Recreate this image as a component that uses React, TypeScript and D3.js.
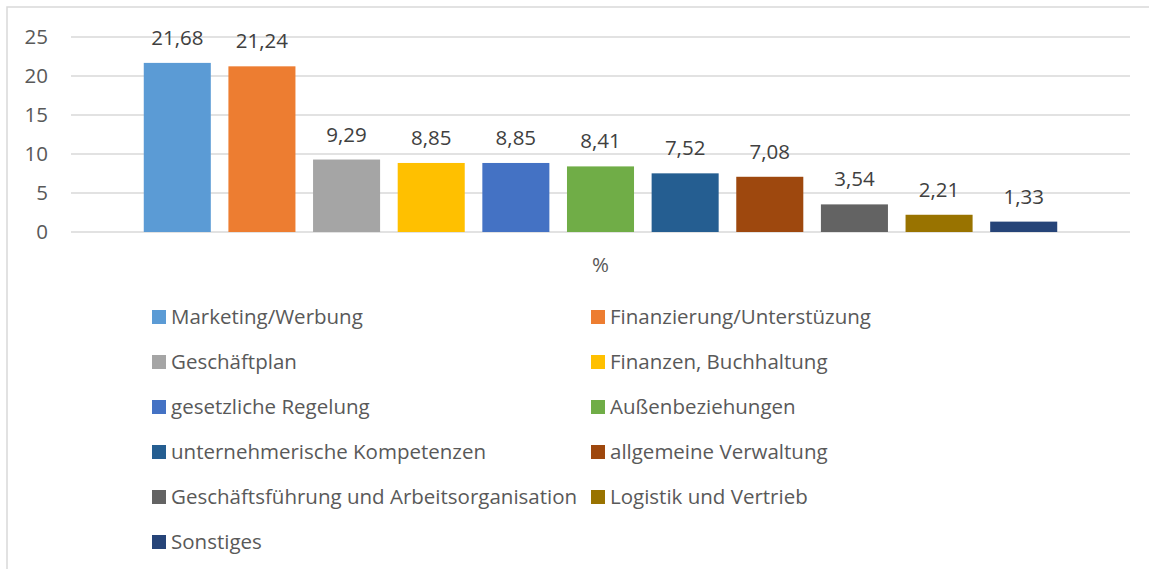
import React from 'react';
import * as d3 from 'd3';

const categories = ['%'];
const seriesNames = [
  'Marketing/Werbung',
  'Finanzierung/Unterstüzung',
  'Geschäftplan',
  'Finanzen, Buchhaltung',
  'gesetzliche Regelung',
  'Außenbeziehungen',
  'unternehmerische Kompetenzen',
  'allgemeine Verwaltung',
  'Geschäftsführung und Arbeitsorganisation',
  'Logistik und Vertrieb',
  'Sonstiges',
];
const seriesValues = [21.68, 21.24, 9.29, 8.85, 8.85, 8.41, 7.52, 7.08, 3.54, 2.21, 1.33];
const seriesColors = [
  '#5B9BD5', '#ED7D31', '#A5A5A5', '#FFC000', '#4472C4', '#70AD47',
  '#255E91', '#9E480E', '#636363', '#997300', '#264478',
];
const yTicks = [0, 5, 10, 15, 20, 25];

const W = 1149;
const H = 569;
const FONT = '"Open Sans", sans-serif';
const FS = 20.5;

export default function App() {
  const plot = { left: 71, right: 1130, top: 37, bottom: 232 };

  const xScale = d3
    .scaleBand<string>()
    .domain(categories)
    .range([plot.left, plot.right])
    .paddingInner(0)
    .paddingOuter(0.0687);

  const seriesScale = d3
    .scaleBand<string>()
    .domain(seriesNames)
    .range([0, xScale.bandwidth()])
    .paddingInner(0.208)
    .paddingOuter(0.104);

  const yScale = d3.scaleLinear().domain([0, 25]).range([plot.bottom, plot.top]);

  const fmt = (v: number) => v.toFixed(2).replace('.', ',');

  const legendX = [152, 591];
  const legendY0 = 317;
  const legendStep = 45;

  return (
    <svg
      width={W}
      height={H}
      style={{ position: 'absolute', left: 0, top: 0, background: '#fff' }}
      fontFamily={FONT}
    >
      <rect x={7} y={7} width={W} height={H} fill="#fff" stroke="#D9D9D9" strokeWidth={1.5} />

      <g className="y-axis">
        {yTicks.map((t) => (
          <g key={t}>
            <line
              x1={plot.left}
              x2={plot.right}
              y1={yScale(t)}
              y2={yScale(t)}
              stroke="#D9D9D9"
              strokeWidth={1.5}
            />
            <text
              x={48}
              y={yScale(t)}
              dy="0.36em"
              textAnchor="end"
              fontSize={FS}
              fill="#595959"
            >
              {t}
            </text>
          </g>
        ))}
      </g>

      <g className="bars">
        {categories.map((c) => (
          <g key={c} transform={`translate(${xScale(c)},0)`}>
            {seriesNames.map((s, i) => {
              const x = seriesScale(s) as number;
              const v = seriesValues[i];
              return (
                <g key={s}>
                  <rect
                    x={x}
                    y={yScale(v)}
                    width={seriesScale.bandwidth()}
                    height={yScale(0) - yScale(v)}
                    fill={seriesColors[i]}
                  />
                  <text
                    x={x + seriesScale.bandwidth() / 2}
                    y={yScale(v) - 18}
                    textAnchor="middle"
                    fontSize={FS}
                    fill="#404040"
                  >
                    {fmt(v)}
                  </text>
                </g>
              );
            })}
          </g>
        ))}
      </g>

      <g className="x-axis">
        {categories.map((c) => (
          <text
            key={c}
            x={(xScale(c) as number) + xScale.bandwidth() / 2}
            y={272}
            textAnchor="middle"
            fontSize={FS}
            fill="#595959"
          >
            {c}
          </text>
        ))}
      </g>

      <g className="legend">
        {seriesNames.map((s, i) => {
          const col = i % 2;
          const row = Math.floor(i / 2);
          const x = legendX[col];
          const y = legendY0 + row * legendStep;
          return (
            <g key={s} transform={`translate(${x},${y})`}>
              <rect x={0} y={-7} width={14} height={14} fill={seriesColors[i]} />
              <text x={19} y={0} dy="0.36em" fontSize={FS} fill="#595959">
                {s}
              </text>
            </g>
          );
        })}
      </g>
    </svg>
  );
}
